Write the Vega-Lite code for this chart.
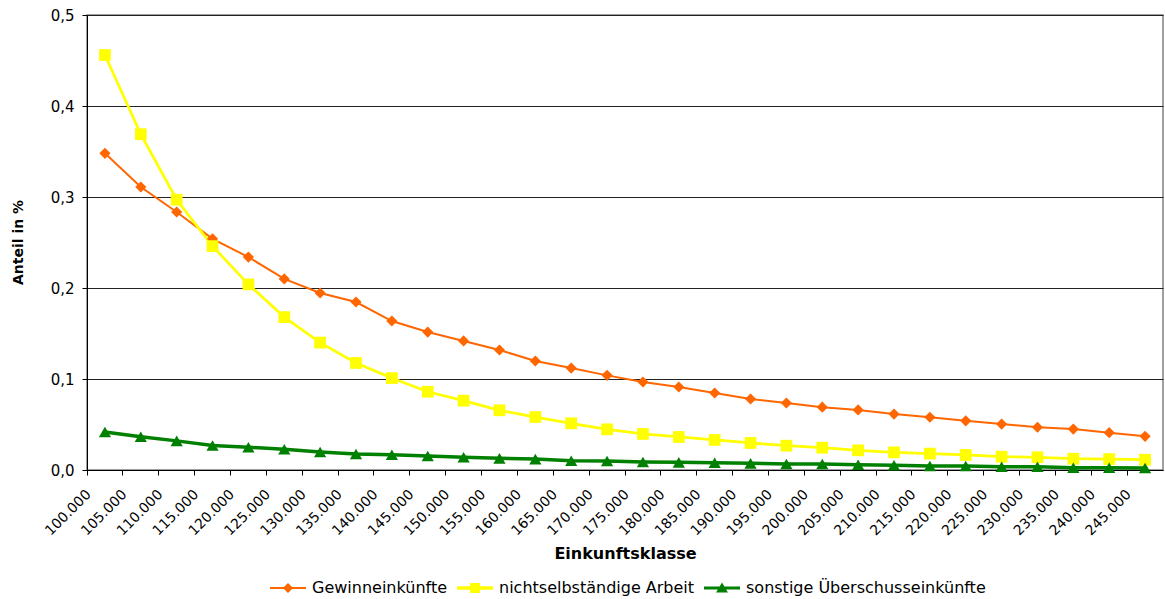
{
  "$schema": "https://vega.github.io/schema/vega-lite/v6.json",
  "width": 1076,
  "height": 455,
  "autosize": {"type": "none"},
  "padding": {"left": 87, "top": 15, "right": 2, "bottom": 129},
  "background": "white",
  "config": {
    "font": "DejaVu Sans",
    "view": {"stroke": "#808080", "strokeWidth": 1.5}
  },
  "data": {
    "values": [
      {"klasse": "100.000", "Gewinneinkünfte": 0.348, "nichtselbständige Arbeit": 0.456, "sonstige Überschusseinkünfte": 0.0418},
      {"klasse": "105.000", "Gewinneinkünfte": 0.311, "nichtselbständige Arbeit": 0.369, "sonstige Überschusseinkünfte": 0.0366},
      {"klasse": "110.000", "Gewinneinkünfte": 0.2835, "nichtselbständige Arbeit": 0.297, "sonstige Überschusseinkünfte": 0.032},
      {"klasse": "115.000", "Gewinneinkünfte": 0.254, "nichtselbständige Arbeit": 0.246, "sonstige Überschusseinkünfte": 0.027},
      {"klasse": "120.000", "Gewinneinkünfte": 0.234, "nichtselbständige Arbeit": 0.204, "sonstige Überschusseinkünfte": 0.025},
      {"klasse": "125.000", "Gewinneinkünfte": 0.21, "nichtselbständige Arbeit": 0.168, "sonstige Überschusseinkünfte": 0.0228},
      {"klasse": "130.000", "Gewinneinkünfte": 0.1945, "nichtselbständige Arbeit": 0.14, "sonstige Überschusseinkünfte": 0.0198},
      {"klasse": "135.000", "Gewinneinkünfte": 0.1846, "nichtselbständige Arbeit": 0.1176, "sonstige Überschusseinkünfte": 0.0176},
      {"klasse": "140.000", "Gewinneinkünfte": 0.1637, "nichtselbständige Arbeit": 0.101, "sonstige Überschusseinkünfte": 0.0168},
      {"klasse": "145.000", "Gewinneinkünfte": 0.1516, "nichtselbständige Arbeit": 0.086, "sonstige Überschusseinkünfte": 0.0154},
      {"klasse": "150.000", "Gewinneinkünfte": 0.1418, "nichtselbständige Arbeit": 0.0762, "sonstige Überschusseinkünfte": 0.014},
      {"klasse": "155.000", "Gewinneinkünfte": 0.1319, "nichtselbständige Arbeit": 0.0656, "sonstige Überschusseinkünfte": 0.0128},
      {"klasse": "160.000", "Gewinneinkünfte": 0.1198, "nichtselbständige Arbeit": 0.0582, "sonstige Überschusseinkünfte": 0.012},
      {"klasse": "165.000", "Gewinneinkünfte": 0.112, "nichtselbständige Arbeit": 0.0513, "sonstige Überschusseinkünfte": 0.0102},
      {"klasse": "170.000", "Gewinneinkünfte": 0.104, "nichtselbständige Arbeit": 0.0447, "sonstige Überschusseinkünfte": 0.0099},
      {"klasse": "175.000", "Gewinneinkünfte": 0.0967, "nichtselbständige Arbeit": 0.0396, "sonstige Überschusseinkünfte": 0.0088},
      {"klasse": "180.000", "Gewinneinkünfte": 0.0912, "nichtselbständige Arbeit": 0.0363, "sonstige Überschusseinkünfte": 0.0084},
      {"klasse": "185.000", "Gewinneinkünfte": 0.0846, "nichtselbständige Arbeit": 0.033, "sonstige Überschusseinkünfte": 0.008},
      {"klasse": "190.000", "Gewinneinkünfte": 0.078, "nichtselbständige Arbeit": 0.0297, "sonstige Überschusseinkünfte": 0.0073},
      {"klasse": "195.000", "Gewinneinkünfte": 0.0736, "nichtselbständige Arbeit": 0.0267, "sonstige Überschusseinkünfte": 0.0066},
      {"klasse": "200.000", "Gewinneinkünfte": 0.069, "nichtselbständige Arbeit": 0.0245, "sonstige Überschusseinkünfte": 0.0066},
      {"klasse": "205.000", "Gewinneinkünfte": 0.066, "nichtselbständige Arbeit": 0.0216, "sonstige Überschusseinkünfte": 0.0058},
      {"klasse": "210.000", "Gewinneinkünfte": 0.0615, "nichtselbständige Arbeit": 0.0194, "sonstige Überschusseinkünfte": 0.0052},
      {"klasse": "215.000", "Gewinneinkünfte": 0.058, "nichtselbständige Arbeit": 0.018, "sonstige Überschusseinkünfte": 0.0044},
      {"klasse": "220.000", "Gewinneinkünfte": 0.054, "nichtselbständige Arbeit": 0.0165, "sonstige Überschusseinkünfte": 0.0044},
      {"klasse": "225.000", "Gewinneinkünfte": 0.0505, "nichtselbständige Arbeit": 0.0146, "sonstige Überschusseinkünfte": 0.0036},
      {"klasse": "230.000", "Gewinneinkünfte": 0.047, "nichtselbständige Arbeit": 0.014, "sonstige Überschusseinkünfte": 0.0036},
      {"klasse": "235.000", "Gewinneinkünfte": 0.045, "nichtselbständige Arbeit": 0.0124, "sonstige Überschusseinkünfte": 0.0025},
      {"klasse": "240.000", "Gewinneinkünfte": 0.041, "nichtselbständige Arbeit": 0.012, "sonstige Überschusseinkünfte": 0.0025},
      {"klasse": "245.000", "Gewinneinkünfte": 0.037, "nichtselbständige Arbeit": 0.0113, "sonstige Überschusseinkünfte": 0.0022}
    ]
  },
  "transform": [
    {"fold": ["Gewinneinkünfte", "nichtselbständige Arbeit", "sonstige Überschusseinkünfte"], "as": ["serie", "anteil"]}
  ],
  "encoding": {
    "x": {
      "field": "klasse",
      "type": "ordinal",
      "scale": {"type": "band", "paddingInner": 0, "paddingOuter": 0},
      "axis": {
        "title": "Einkunftsklasse",
        "titleFontSize": 16,
        "titleFontWeight": "bold",
        "titleColor": "black",
        "titleY": 83,
        "titleBaseline": "middle",
        "bandPosition": 0,
        "labelAngle": -45,
        "labelAlign": "right",
        "labelBaseline": "top",
        "labelFontSize": 14,
        "labelColor": "black",
        "labelPadding": 12,
        "labelOffset": -21,
        "labelOverlap": false,
        "labelBound": false,
        "labelFlush": false,
        "tickColor": "black",
        "tickSize": 5,
        "domainColor": "black",
        "grid": false
      }
    },
    "y": {
      "field": "anteil",
      "type": "quantitative",
      "scale": {"domain": [0, 0.5], "nice": false},
      "axis": {
        "title": "Anteil in %",
        "titleFontSize": 14,
        "titleFontWeight": "bold",
        "titleColor": "black",
        "titleX": -69,
        "titleY": 227,
        "titleAngle": -90,
        "titleAlign": "center",
        "titleBaseline": "middle",
        "values": [0, 0.1, 0.2, 0.3, 0.4, 0.5],
        "labelExpr": "replace(format(datum.value, '.1f'), '.', ',')",
        "labelFontSize": 15,
        "labelColor": "black",
        "labelPadding": 8,
        "tickColor": "black",
        "tickSize": 5,
        "domainColor": "black",
        "grid": true,
        "gridColor": "#222222",
        "gridWidth": 1
      }
    }
  },
  "layer": [
    {
      "mark": {"type": "line"},
      "encoding": {
        "color": {
          "field": "serie",
          "type": "nominal",
          "scale": {"domain": ["Gewinneinkünfte", "nichtselbständige Arbeit", "sonstige Überschusseinkünfte"], "range": ["#FF6600", "#FFFF00", "#008000"]},
          "legend": null
        },
        "strokeWidth": {
          "field": "serie",
          "type": "nominal",
          "scale": {"domain": ["Gewinneinkünfte", "nichtselbständige Arbeit", "sonstige Überschusseinkünfte"], "range": [2, 3.5, 3]},
          "legend": null
        }
      }
    },
    {
      "mark": {"type": "point", "filled": true, "opacity": 1},
      "encoding": {
        "color": {
          "field": "serie",
          "type": "nominal",
          "scale": {"domain": ["Gewinneinkünfte", "nichtselbständige Arbeit", "sonstige Überschusseinkünfte"], "range": ["#FF6600", "#FFFF00", "#008000"]},
          "legend": null
        },
        "shape": {
          "field": "serie",
          "type": "nominal",
          "scale": {"domain": ["Gewinneinkünfte", "nichtselbständige Arbeit", "sonstige Überschusseinkünfte"], "range": ["diamond", "square", "triangle-up"]},
          "legend": null
        },
        "size": {
          "field": "serie",
          "type": "nominal",
          "scale": {"domain": ["Gewinneinkünfte", "nichtselbständige Arbeit", "sonstige Überschusseinkünfte"], "range": [125, 150, 140]},
          "legend": null
        }
      }
    },
    {
      "mark": {"type": "point", "filled": true, "opacity": 0},
      "encoding": {
        "color": {
          "field": "serie",
          "type": "nominal",
          "scale": {"domain": ["Gewinneinkünfte", "nichtselbständige Arbeit", "sonstige Überschusseinkünfte"], "range": ["#FF6600", "#FFFF00", "#008000"]},
          "legend": {
            "title": null,
            "orient": "none",
            "direction": "horizontal",
            "legendX": 183,
            "legendY": 555,
            "symbolSize": 1296,
            "symbolOpacity": 1,
            "symbolStrokeWidth": 0,
            "labelFontSize": 16,
            "labelColor": "black",
            "labelOffset": 6,
            "labelLimit": 400,
            "columnPadding": 9
          }
        },
        "shape": {
          "field": "serie",
          "type": "nominal",
          "scale": {
            "domain": ["Gewinneinkünfte", "nichtselbständige Arbeit", "sonstige Überschusseinkünfte"],
            "range": [
              "M-1,-0.056H1V0.056H-1Z M0,-0.28L0.28,0L0,0.28L-0.28,0Z",
              "M-1,-0.1H1V0.1H-1Z M-0.28,-0.28H0.28V0.28H-0.28Z",
              "M-1,-0.083H1V0.083H-1Z M0,-0.3L0.33,0.25L-0.33,0.25Z"
            ]
          },
          "legend": {
            "title": null,
            "orient": "none",
            "direction": "horizontal",
            "legendX": 183,
            "legendY": 555,
            "symbolSize": 1296,
            "symbolOpacity": 1,
            "symbolStrokeWidth": 0,
            "labelFontSize": 16,
            "labelColor": "black",
            "labelOffset": 6,
            "labelLimit": 400,
            "columnPadding": 9
          }
        }
      }
    }
  ],
  "resolve": {"scale": {"color": "independent", "shape": "independent"}}
}
